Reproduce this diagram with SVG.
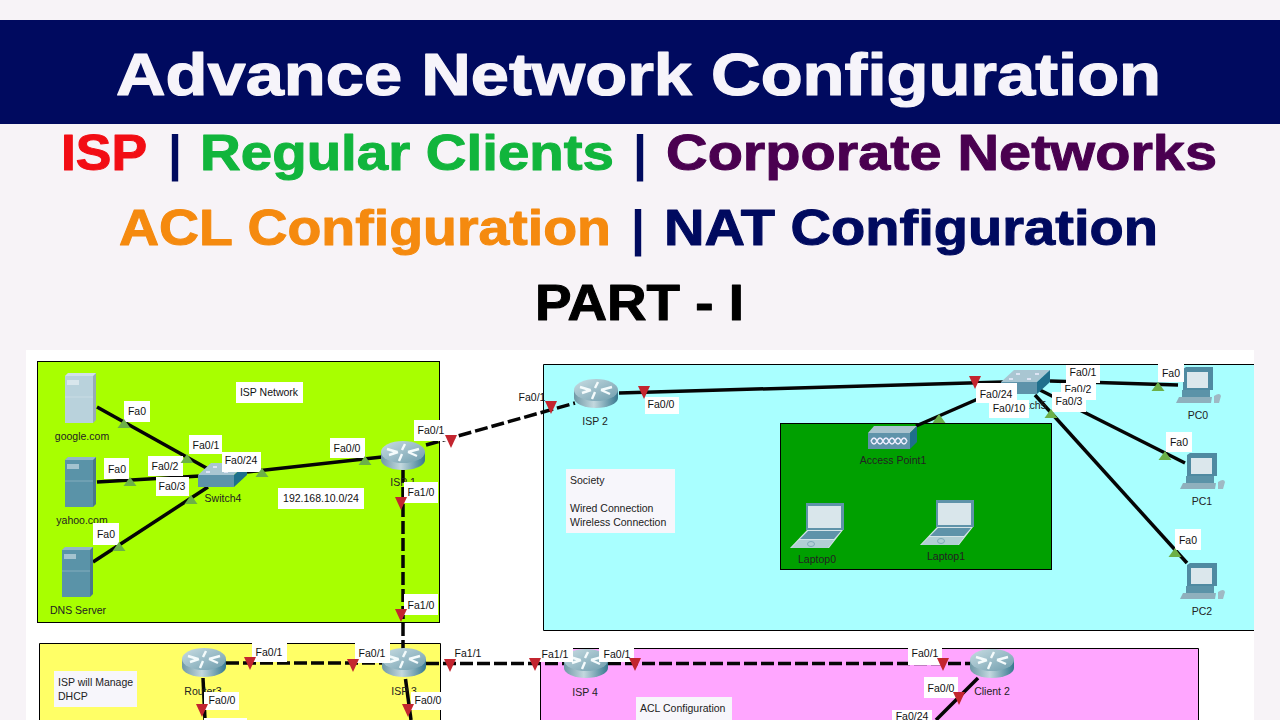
<svg xmlns="http://www.w3.org/2000/svg" width="1280" height="720" viewBox="0 0 1280 720">
<style>
.h{font-family:"Liberation Sans",Arial,sans-serif;font-weight:700;stroke-linejoin:round}
.t{font-family:"Liberation Sans",Arial,sans-serif;font-size:10.5px;fill:#111;text-anchor:middle}
.d{font-family:"Liberation Sans",Arial,sans-serif;font-size:10.5px;fill:#222;text-anchor:middle}
.n{font-family:"Liberation Sans",Arial,sans-serif;font-size:10.5px;fill:#222}
.b{fill:#fff}
.a{fill:#f7f6fb}
.z{stroke:#000;stroke-width:1}
.s{stroke:#050505;stroke-width:3.5;fill:none}
.q{stroke:#050505;stroke-width:3.5;fill:none;stroke-dasharray:13 4}
.gt{fill:#6cb048}
.rt{fill:#c3252f}
</style>
<defs>
<linearGradient id="rb" x1="0" x2="1" y1="0" y2="0"><stop offset="0" stop-color="#6f98a6"/><stop offset=".45" stop-color="#c3d8de"/><stop offset="1" stop-color="#37788f"/></linearGradient>
<linearGradient id="rtg" x1="0" x2="1" y1="0" y2="1"><stop offset="0" stop-color="#c9dde3"/><stop offset="1" stop-color="#6f9dad"/></linearGradient>
<g id="router"><path d="M0 11V19A22 10 0 0 0 44 19V11Z" fill="url(#rb)"/><ellipse cx="22" cy="11" rx="22" ry="11" fill="url(#rtg)"/><path d="M6 8L16 11M8 14L17 11M38 8L27 11M36 15L27 11M24 3L21 9M21 13L18 20" stroke="#f4fbfc" stroke-width="2.4" fill="none"/></g>
<g id="switch"><path d="M13 0H49L36 12H0Z" fill="#a9c6d2"/><path d="M0 12H36V24H0Z" fill="#5d93aa"/><path d="M36 12L49 0V12L36 24Z" fill="#1f6f8c"/><path d="M15 4h4M34 4h4M8 9h4M26 9h4" stroke="#eef" stroke-width="1.5"/></g>
<g id="server"><path d="M0 3L3 0H31V47L28 50H0Z" fill="currentColor"/><path d="M28 3L31 0V47L28 50Z" fill="#000" opacity=".18"/><path d="M0 3L3 0H31L28 3Z" fill="#fff" opacity=".35"/><path d="M0 24H28" stroke="#fff" opacity=".25"/><rect x="2" y="7" width="12" height="5" fill="#fff" opacity=".45"/></g>
<g id="pc"><path d="M7 2L10 0H37V23H7Z" fill="#4f8aa1"/><rect x="11" y="5" width="21" height="16" fill="#dbe7ec"/><path d="M6 23H34V30H6Z" fill="#5b93a8"/><path d="M3 30H36L35 36H0Z" fill="#8fb0bd"/><path d="M38 29q6-4 7 0l-2 7h-5Z" fill="#9fb9c4"/></g>
<g id="laptop"><path d="M16 0H54V27H16Z" fill="#5f93a9"/><rect x="18" y="3" width="33" height="22" fill="#d9e6eb"/><path d="M17 27H53L39 45H0Z" fill="#d5e4e8"/><path d="M18 28H51L44 36H10Z" fill="#5e93a9"/><path d="M9 37H44L38 45H1Z" fill="#b2cfd4"/><ellipse cx="21" cy="41" rx="3.500" ry="2.500" fill="none" stroke="#7fa9b8"/></g>
<g id="ap"><path d="M6 0H49L42 7H0Z" fill="#a9c3ce"/><path d="M0 7H42V23H0Z" fill="#5f93aa"/><path d="M42 7L49 0V16L42 23Z" fill="#1f6f8c"/><path d="M3 15q3-6 6 0t6 0 6 0 6 0 6 0 6 0 M3 15q3 6 6 0t6 0 6 0 6 0 6 0 6 0" fill="none" stroke="#eef" stroke-width="1.6"/></g>
<path id="tg" d="M0 -5L6.500 4H-6.500Z"/>
<path id="tr" d="M-6 -6H6L0 7Z"/>
</defs>

<rect width="1280" height="720" fill="#f7f3f7"/>
<g id="heading">
<rect x="0" y="20" width="1280" height="104" fill="#000a5f"/>
<text class="h" x="116" y="95" font-size="60" fill="#f6f4fa" stroke="#f6f4fa" stroke-width="1.200" textLength="1045" lengthAdjust="spacingAndGlyphs">Advance Network Configuration</text>
<text class="h" x="61" y="170" font-size="50" fill="#f20d14" stroke="#f20d14" textLength="86" lengthAdjust="spacingAndGlyphs">ISP</text>
<text class="h" x="168" y="170" font-size="50" fill="#000a5f">|</text>
<text class="h" x="200" y="170" font-size="50" fill="#11b53c" stroke="#11b53c" textLength="414" lengthAdjust="spacingAndGlyphs">Regular Clients</text>
<text class="h" x="633" y="170" font-size="50" fill="#000a5f">|</text>
<text class="h" x="666" y="170" font-size="50" fill="#4a0050" stroke="#4a0050" textLength="551" lengthAdjust="spacingAndGlyphs">Corporate Networks</text>
<text class="h" x="119" y="245" font-size="50" fill="#f58a0f" stroke="#f58a0f" textLength="492" lengthAdjust="spacingAndGlyphs">ACL Configuration</text>
<text class="h" x="631" y="245" font-size="50" fill="#000a5f">|</text>
<text class="h" x="664" y="245" font-size="50" fill="#000a5f" stroke="#000a5f" textLength="494" lengthAdjust="spacingAndGlyphs">NAT Configuration</text>
<text class="h" x="535" y="320" font-size="50" fill="#000" stroke="#000" textLength="209" lengthAdjust="spacingAndGlyphs">PART - I</text>
</g>

<g id="canvas">
<rect x="26" y="350" width="1228" height="370" fill="#fff"/>
<rect id="area-isp" class="z" x="37.500" y="361.500" width="402" height="261" fill="#a8ff00"/>
<path id="area-society" class="z" d="M1254 364.500H543.500V630.500H1254" fill="#a9ffff"/>
<rect id="area-wireless" class="z" x="780.500" y="423.500" width="271" height="146" fill="#00a000"/>
<path id="area-dhcp" class="z" d="M39.500 720V643.500H440.500V720" fill="#ffff66"/>
<path id="area-acl" class="z" d="M540.500 720V648.500H1198.500V720" fill="#ffa6ff"/>
</g>

<g id="connectors">
<path class="s" d="M97 407L210 470"/>
<path class="s" d="M97 482L200 476"/>
<path class="s" d="M93 562L208 487"/>
<path class="s" d="M247 472L382 457"/>
<path class="q" d="M426 445L575 403"/>
<path class="q" d="M403 470V650"/>
<path class="s" d="M619 393L1003 382"/>
<path class="s" d="M1050 381L1178 385"/>
<path class="s" d="M1040 390L1185 463"/>
<path class="s" d="M1035 395L1187 563"/>
<path class="s" d="M916 426L1003 388"/>
<path class="q" d="M226 663H382"/>
<path class="q" d="M426 663.500H564"/>
<path class="q" d="M608 663.500H970"/>
<path class="s" d="M203 678L205 720"/>
<path class="s" d="M405.500 679L411 720"/>
<path class="s" d="M978 678L936 720"/>
</g>

<g id="google"><use href="#server" x="65" y="373" color="#b9d2dc"/><text class="d" x="82" y="440">google.com</text></g>
<g id="yahoo"><use href="#server" x="65" y="457" color="#5a93a8"/><text class="d" x="82" y="524">yahoo.com</text></g>
<g id="dns"><use href="#server" x="62" y="547" color="#5a93a8"/><text class="d" x="78" y="614">DNS Server</text></g>
<g id="switch4"><use href="#switch" x="198" y="463"/><text class="d" x="223" y="502">Switch4</text></g>
<g id="isp1"><use href="#router" x="381" y="441"/><text class="d" x="403" y="486">ISP 1</text></g>
<g id="isp2"><use href="#router" x="574" y="379"/><text class="d" x="595" y="425">ISP 2</text></g>
<g id="switch5"><use href="#switch" x="1001" y="370"/><text class="d" x="1028" y="409">Switch5</text></g>
<g id="ap1"><use href="#ap" x="868" y="426"/><text class="d" x="893" y="464">Access Point1</text></g>
<g id="laptop0"><use href="#laptop" x="790" y="503"/><text class="d" x="817" y="563">Laptop0</text></g>
<g id="laptop1"><use href="#laptop" x="920" y="500"/><text class="d" x="946" y="560">Laptop1</text></g>
<g id="pc0"><use href="#pc" x="1176" y="367"/><text class="d" x="1198" y="419">PC0</text></g>
<g id="pc1"><use href="#pc" x="1180" y="453"/><text class="d" x="1202" y="505">PC1</text></g>
<g id="pc2"><use href="#pc" x="1180" y="563"/><text class="d" x="1202" y="615">PC2</text></g>
<g id="router3"><use href="#router" x="182" y="648"/><text class="d" x="203" y="695">Router3</text></g>
<g id="isp3"><use href="#router" x="382" y="648"/><text class="d" x="404" y="695">ISP 3</text></g>
<g id="isp4"><use href="#router" x="564" y="649"/><text class="d" x="585" y="696">ISP 4</text></g>
<g id="client2"><use href="#router" x="970" y="649"/><text class="d" x="992" y="695">Client 2</text></g>

<g id="notes">
<rect class="b" x="236" y="382" width="67" height="21"/><text class="t" x="269" y="396">ISP Network</text>
<rect class="b" x="278" y="488" width="86" height="21"/><text class="t" x="321" y="502">192.168.10.0/24</text>
<rect class="a" x="566" y="469" width="109" height="64"/><text class="n" x="570" y="484">Society</text><text class="n" x="570" y="512">Wired Connection</text><text class="n" x="570" y="526">Wireless Connection</text>
<rect class="a" x="54" y="671" width="83" height="36"/><text class="n" x="58" y="686">ISP will Manage</text><text class="n" x="58" y="700">DHCP</text>
<rect class="a" x="636" y="697" width="96" height="23"/><text class="n" x="640" y="712">ACL Configuration</text>
</g>

<g id="ports">
<rect class="b" x="124" y="401" width="26" height="21"/><text class="t" x="137" y="415">Fa0</text>
<rect class="b" x="189" y="435" width="33" height="19"/><text class="t" x="206" y="449">Fa0/1</text>
<rect class="b" x="104" y="458" width="25" height="21"/><text class="t" x="117" y="473">Fa0</text>
<rect class="b" x="148" y="456" width="35" height="20"/><text class="t" x="165" y="470">Fa0/2</text>
<rect class="b" x="156" y="477" width="33" height="19"/><text class="t" x="172" y="490">Fa0/3</text>
<rect class="b" x="222" y="452" width="39" height="20"/><text class="t" x="241" y="464">Fa0/24</text>
<rect class="b" x="330" y="438" width="35" height="20"/><text class="t" x="347" y="452">Fa0/0</text>
<rect class="b" x="414" y="420" width="34" height="21"/><text class="t" x="431" y="434">Fa0/1</text>
<rect class="b" x="404" y="482" width="34" height="21"/><text class="t" x="421" y="496">Fa1/0</text>
<rect class="b" x="404" y="594" width="34" height="21"/><text class="t" x="421" y="609">Fa1/0</text>
<rect class="b" x="93" y="523" width="26" height="22"/><text class="t" x="106" y="538">Fa0</text>
<text class="t" x="532" y="401">Fa0/1</text>
<rect class="b" x="645" y="397" width="34" height="17"/><text class="t" x="661" y="408">Fa0/0</text>
<rect class="b" x="976" y="383" width="41" height="20"/><text class="t" x="996" y="398">Fa0/24</text>
<rect class="b" x="1061" y="383" width="35" height="17"/><text class="t" x="1078" y="393">Fa0/2</text>
<rect class="b" x="989" y="400" width="40" height="18"/><text class="t" x="1009" y="412">Fa0/10</text>
<rect class="b" x="1066" y="365" width="34" height="18"/><text class="t" x="1083" y="376">Fa0/1</text>
<rect class="b" x="1052" y="392" width="34" height="20"/><text class="t" x="1069" y="405">Fa0/3</text>
<rect class="b" x="1158" y="364" width="26" height="18"/><text class="t" x="1171" y="377">Fa0</text>
<rect class="b" x="1166" y="432" width="26" height="20"/><text class="t" x="1179" y="446">Fa0</text>
<rect class="b" x="1175" y="529" width="26" height="21"/><text class="t" x="1188" y="544">Fa0</text>
<rect class="b" x="252" y="643" width="35" height="19"/><text class="t" x="269" y="656">Fa0/1</text>
<rect class="b" x="355" y="638" width="35" height="25"/><text class="t" x="372" y="657">Fa0/1</text>
<text class="t" x="468" y="657">Fa1/1</text>
<rect class="b" x="540" y="647" width="33" height="15"/><text class="t" x="555" y="658">Fa1/1</text>
<rect class="b" x="599" y="647" width="35" height="15"/><text class="t" x="617" y="658">Fa0/1</text>
<rect class="b" x="908" y="647" width="34" height="18"/><text class="t" x="925" y="657">Fa0/1</text>
<rect class="b" x="924" y="677" width="34" height="21"/><text class="t" x="941" y="692">Fa0/0</text>
<rect class="b" x="892" y="710" width="40" height="10"/><text class="t" x="912" y="720">Fa0/24</text>
<rect class="b" x="204" y="692" width="35" height="18"/><text class="t" x="222" y="704">Fa0/0</text>
<rect class="b" x="204" y="718" width="43" height="2"/>
<rect class="b" x="411" y="692" width="34" height="18"/><text class="t" x="428" y="704">Fa0/0</text>
<g class="gt">
<use href="#tg" x="124" y="424"/><use href="#tg" x="187" y="459"/><use href="#tg" x="130" y="482"/><use href="#tg" x="191" y="500"/><use href="#tg" x="262" y="473"/><use href="#tg" x="365" y="461"/><use href="#tg" x="119" y="547"/>
<use href="#tg" x="939" y="419"/><use href="#tg" x="1051" y="414"/><use href="#tg" x="1158" y="387"/><use href="#tg" x="1165" y="456"/><use href="#tg" x="1175" y="553"/>
</g>
<g class="rt">
<use href="#tr" x="451" y="441"/><use href="#tr" x="401" y="503"/><use href="#tr" x="401" y="615"/><use href="#tr" x="551" y="407"/>
<use href="#tr" x="644" y="392"/><use href="#tr" x="975" y="382"/>
<use href="#tr" x="250" y="663"/><use href="#tr" x="353" y="665"/><use href="#tr" x="450" y="665"/><use href="#tr" x="535" y="664"/><use href="#tr" x="635" y="664"/><use href="#tr" x="943" y="664"/><use href="#tr" x="959" y="698"/><use href="#tr" x="202" y="710"/><use href="#tr" x="408" y="710"/>
</g>
</g>
</svg>
